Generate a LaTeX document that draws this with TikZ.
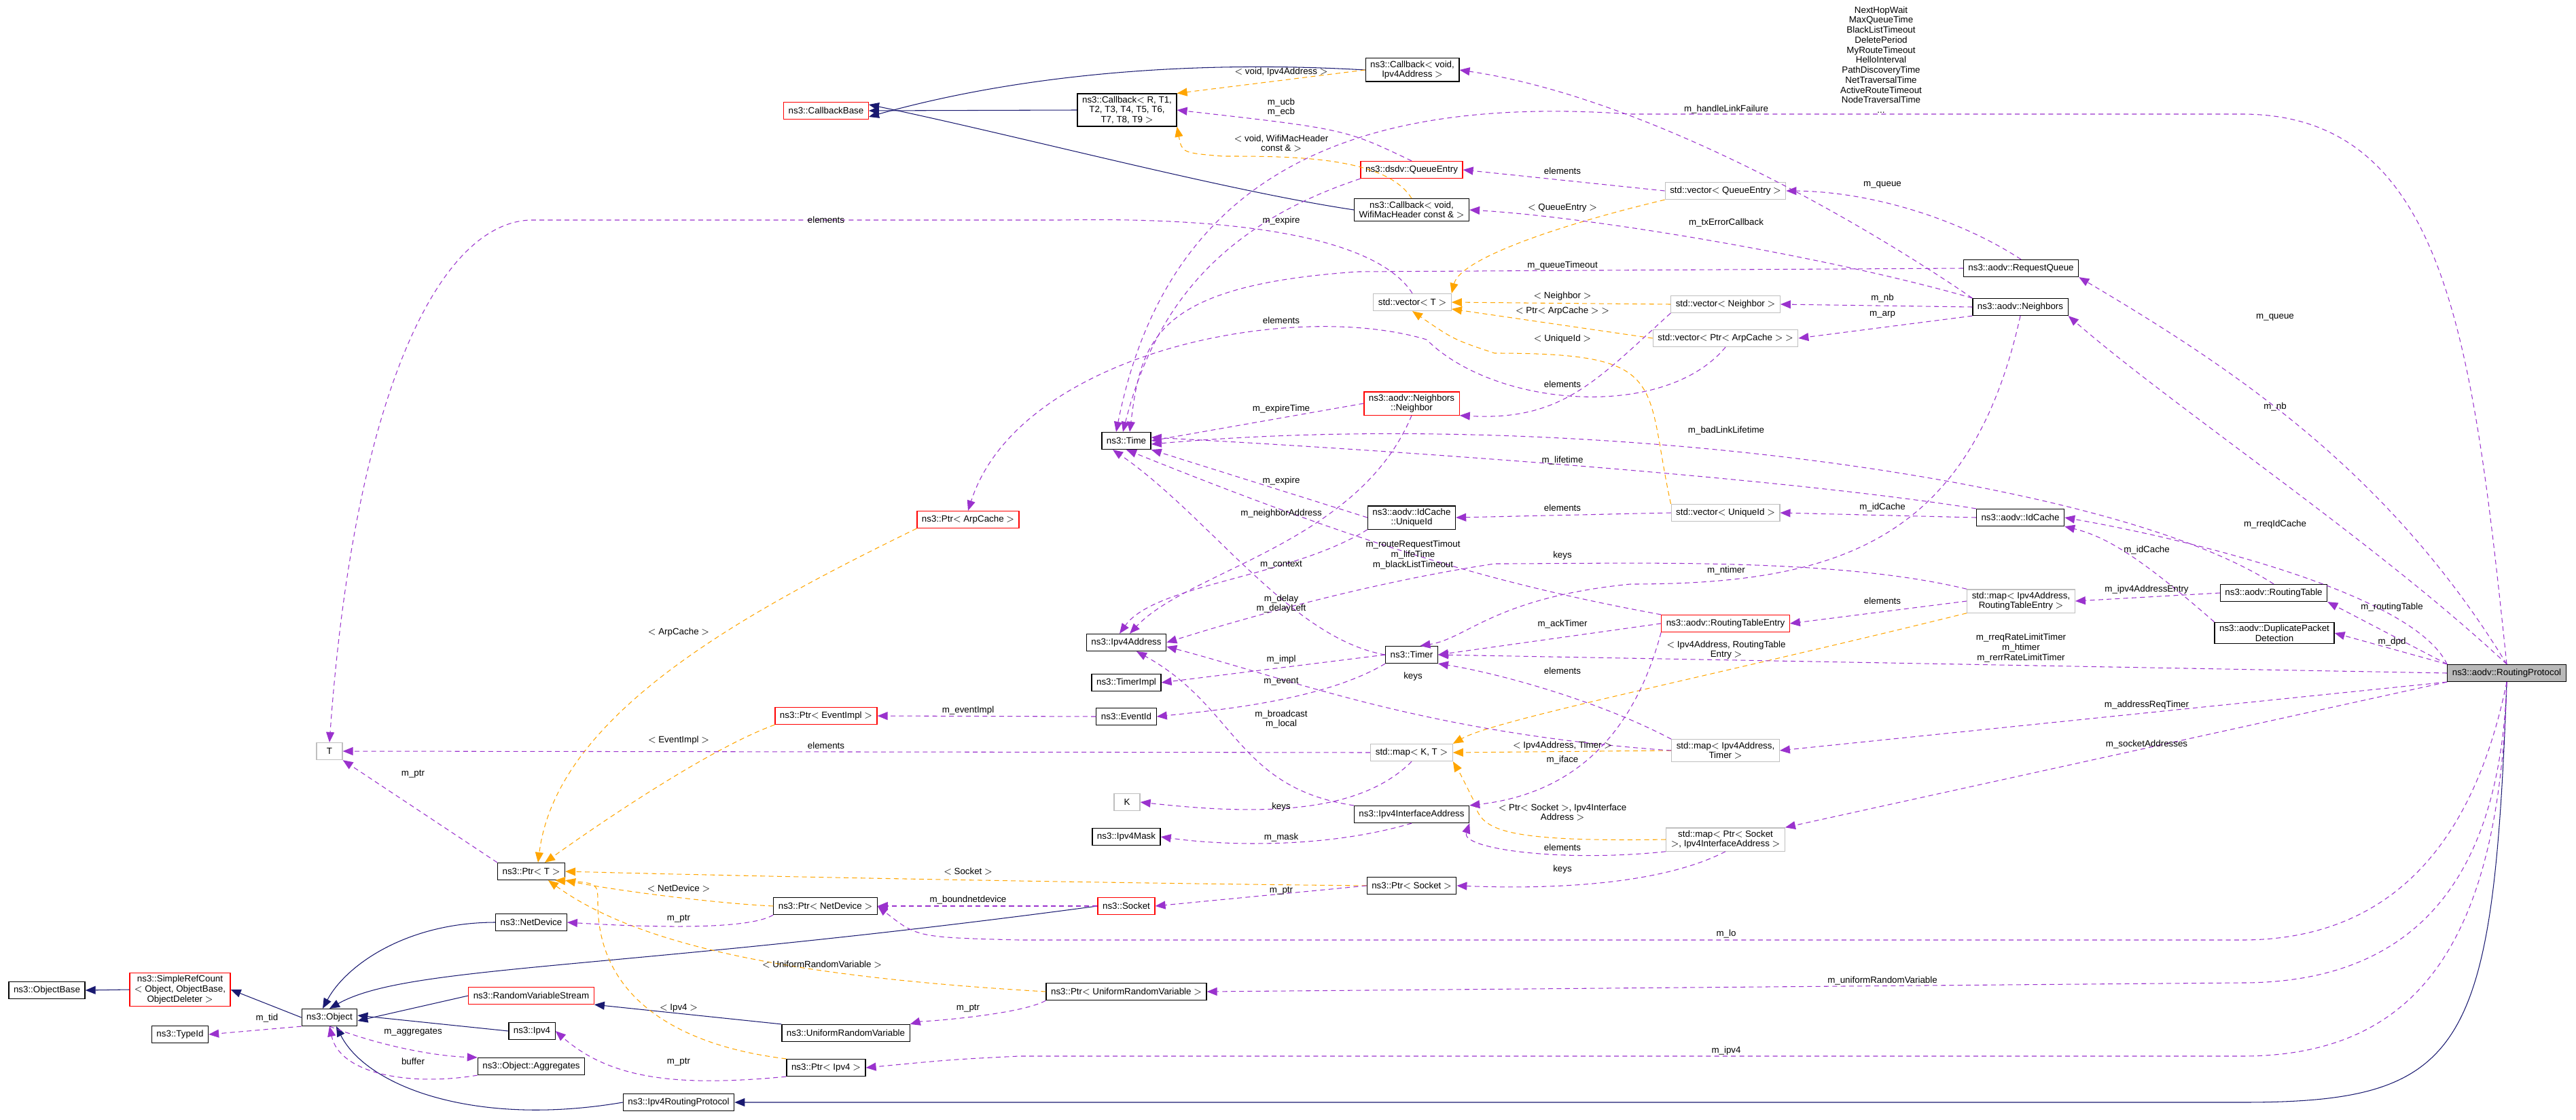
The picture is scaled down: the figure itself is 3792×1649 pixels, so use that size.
\documentclass[tikz,border=0pt]{standalone}
\usepackage{fontspec}
\setmainfont{Liberation Sans}
\usetikzlibrary{arrows.meta}
\definecolor{navy}{HTML}{191970}
\definecolor{pur}{HTML}{9A32CD}
\definecolor{org}{HTML}{FFA500}
\tikzset{
  cls/.style={draw=black,line width=0.7pt,fill=white,font=\fontsize{7.6}{8.4}\selectfont,align=center,inner xsep=4pt,inner ysep=2pt,minimum height=0.5cm},
  redc/.style={cls,draw=red},
  grayc/.style={cls,draw=gray!50},
  mainc/.style={cls,fill=gray!55},
  lbl/.style={font=\fontsize{7.6}{8.4}\selectfont,align=center,inner sep=0pt},
  inh/.style={draw=navy,line width=0.6pt,-{Triangle[length=0.3cm,width=0.24cm]}},
  use/.style={draw=pur,line width=0.6pt,dash pattern=on 4pt off 3pt,-{Triangle[length=0.3cm,width=0.24cm]}},
  tpl/.style={draw=org,line width=0.6pt,dash pattern=on 4pt off 3pt,-{Triangle[length=0.3cm,width=0.24cm]}},
}
\begin{document}
\begin{tikzpicture}[x=0.02cm,y=-0.02cm]
\useasboundingbox (0,0) rectangle (3792,1649);
% nodes
\node[redc] (cbb) at (1216,163) {ns3::CallbackBase};
\node[cls] (cbip) at (2079,103) {ns3::Callback$<$ void,\\ Ipv4Address $>$};
\node[cls] (cbr) at (1659,162) {ns3::Callback$<$ R, T1,\\ T2, T3, T4, T5, T6,\\ T7, T8, T9 $>$};
\node[redc] (qe) at (2078,250) {ns3::dsdv::QueueEntry};
\node[cls] (cbw) at (2078,309) {ns3::Callback$<$ void,\\ WifiMacHeader const \& $>$};
\node[grayc] (vqe) at (2540,281) {std::vector$<$ QueueEntry $>$};
\node[grayc] (vt) at (2079,445) {std::vector$<$ T $>$};
\node[grayc] (vnb) at (2540,448) {std::vector$<$ Neighbor $>$};
\node[grayc] (varp) at (2540,498) {std::vector$<$ Ptr$<$ ArpCache $>$ $>$};
\node[cls] (rq) at (2975,395) {ns3::aodv::RequestQueue};
\node[cls] (nbs) at (2974,452) {ns3::aodv::Neighbors};
\node[redc] (nb) at (2078,594) {ns3::aodv::Neighbors\\::Neighbor};
\node[cls] (time) at (1658,649) {ns3::Time};
\node[redc] (parp) at (1425,765) {ns3::Ptr$<$ ArpCache $>$};
\node[cls] (uid) at (2078,762) {ns3::aodv::IdCache\\::UniqueId};
\node[grayc] (vuid) at (2540,755) {std::vector$<$ UniqueId $>$};
\node[cls] (idc) at (2974,762) {ns3::aodv::IdCache};
\node[cls] (rt) at (3347,873) {ns3::aodv::RoutingTable};
\node[cls] (dpd) at (3348,932) {ns3::aodv::DuplicatePacket\\ Detection};
\node[grayc] (mrte) at (2975,885) {std::map$<$ Ipv4Address,\\ RoutingTableEntry $>$};
\node[mainc] (rp) at (3690,991) {ns3::aodv::RoutingProtocol};
\node[cls] (ip) at (1658,946) {ns3::Ipv4Address};
\node[cls] (timpl) at (1658,1005) {ns3::TimerImpl};
\node[cls] (eid) at (1658,1055) {ns3::EventId};
\node[cls] (timer) at (2078,964) {ns3::Timer};
\node[redc] (rte) at (2540,918) {ns3::aodv::RoutingTableEntry};
\node[grayc] (mkt) at (2078,1108) {std::map$<$ K, T $>$};
\node[grayc] (mit) at (2540,1105) {std::map$<$ Ipv4Address,\\ Timer $>$};
\node[grayc,minimum width=0.76cm] (K) at (1659,1181) {K};
\node[cls] (iia) at (2078,1199) {ns3::Ipv4InterfaceAddress};
\node[cls] (mask) at (1658,1232) {ns3::Ipv4Mask};
\node[grayc] (msock) at (2540,1236) {std::map$<$ Ptr$<$ Socket\\ $>$, Ipv4InterfaceAddress $>$};
\node[cls] (psock) at (2078,1304) {ns3::Ptr$<$ Socket $>$};
\node[redc] (sock) at (1658,1334) {ns3::Socket};
\node[cls] (purv) at (1658,1460) {ns3::Ptr$<$ UniformRandomVariable $>$};
\node[grayc,minimum width=0.76cm] (T) at (485,1106) {T};
\node[cls] (pt) at (782,1283) {ns3::Ptr$<$ T $>$};
\node[redc] (pev) at (1216,1054) {ns3::Ptr$<$ EventImpl $>$};
\node[cls] (pnd) at (1215,1334) {ns3::Ptr$<$ NetDevice $>$};
\node[cls] (nd) at (782,1358) {ns3::NetDevice};
\node[cls] (ob) at (69,1458) {ns3::ObjectBase};
\node[redc] (src) at (265,1457) {ns3::SimpleRefCount\\ $<$ Object, ObjectBase,\\ ObjectDeleter $>$};
\node[cls] (obj) at (485,1498) {ns3::Object};
\node[cls] (tid) at (265,1523) {ns3::TypeId};
\node[redc] (rvs) at (782,1466) {ns3::RandomVariableStream};
\node[cls] (ipv4) at (783,1518) {ns3::Ipv4};
\node[cls] (agg) at (782,1570) {ns3::Object::Aggregates};
\node[cls] (i4rp) at (999,1623) {ns3::Ipv4RoutingProtocol};
\node[cls] (urv) at (1245,1521) {ns3::UniformRandomVariable};
\node[cls] (pip) at (1216,1572) {ns3::Ptr$<$ Ipv4 $>$};

% inheritance
\draw[inh] (cbip.west) .. controls (1750,88) and (1500,110) .. ([yshift=-0.18cm]cbb.east);
\draw[inh] (cbr.west) -- (cbb.east);
\draw[inh] (cbw.west) .. controls (1800,280) and (1500,200) .. ([yshift=0.18cm]cbb.east);
\draw[inh] (src.west) -- (ob.east);
\draw[inh] (obj.west) -- (src.east);
\draw[inh] (nd.west) .. controls (600,1358) and (510,1420) .. ([xshift=-0.2cm]obj.north);
\draw[inh] (sock.west) .. controls (900,1430) and (600,1420) .. (obj.north);
\draw[inh] (rvs.west) -- ([yshift=-0.1cm]obj.east);
\draw[inh] (ipv4.west) -- ([yshift=0.06cm]obj.east);
\draw[inh] (i4rp.west) .. controls (700,1660) and (540,1600) .. ([xshift=0.2cm]obj.south);
\draw[inh] (urv.north west) -- (rvs.south east);
\draw[inh] (rp.south) .. controls (3670,1550) and (3630,1623) .. (3300,1623) -- (i4rp.east);

% templates
\draw[tpl] (cbip.west) -- (cbr.north east);
\draw[tpl] (cbw.north) .. controls (2040,230) and (1900,230) .. (1800,230) .. controls (1740,225) .. (cbr.south east);
\draw[tpl] (vqe.south west) .. controls (2300,330) and (2150,380) .. (vt.north east);
\draw[tpl] (vnb.west) -- (vt.east);
\draw[tpl] (varp.west) -- ([yshift=-0.2cm]vt.east);
\draw[tpl] (vuid.north west) .. controls (2420,560) and (2460,520) .. (2200,520) .. controls (2140,500) .. (vt.south);
\draw[tpl] (parp.south west) .. controls (1100,900) and (820,1050) .. ([xshift=0.2cm]pt.north);
\draw[tpl] (pev.south west) .. controls (1050,1100) and (900,1200) .. ([xshift=0.4cm]pt.north);
\draw[tpl] (pnd.west) .. controls (1050,1330) and (900,1310) .. (pt.south east);
\draw[tpl] (psock.west) .. controls (1600,1300) and (1100,1290) .. (pt.east);
\draw[tpl] (purv.west) .. controls (1200,1440) and (950,1400) .. ([xshift=0.5cm]pt.south);
\draw[tpl] (pip.north west) .. controls (1000,1540) and (880,1470) .. (880,1330) .. controls (880,1300) .. ([xshift=0.7cm]pt.south);
\draw[tpl] (mrte.south west) .. controls (2500,1000) and (2200,1060) .. (mkt.north east);
\draw[tpl] (mit.west) -- (mkt.east);
\draw[tpl] (msock.west) .. controls (2200,1240) and (2180,1220) .. (2170,1180) .. controls (2150,1140) .. (mkt.south east);

% usage
\draw[use] (qe.north) .. controls (1980,190) .. (cbr.east);
\draw[use] (vqe.west) -- (qe.east);
\draw[use] (rq.north) .. controls (2880,320) and (2750,282) .. (vqe.east);
\draw[use] (rq.west) -- (2000,400) .. controls (1700,420) and (1680,500) .. ([xshift=0.1cm]time.north);
\draw[use] (nbs.north west) .. controls (2700,300) and (2400,140) .. (cbip.east);
\draw[use] (nbs.north west) .. controls (2700,380) and (2350,320) .. (cbw.east);
\draw[use] (nbs.west) -- (vnb.east);
\draw[use] (nbs.south west) -- (varp.east);
\draw[use] (nbs.south) .. controls (2900,800) and (2700,860) .. (2400,860) .. controls (2200,880) and (2160,940) .. ([xshift=0.25cm]timer.north);
\draw[use] (vt.north) .. controls (2040,370) and (1900,318) .. (1560,324) -- (780,324) .. controls (640,330) and (520,600) .. (T.north);
\draw[use] (qe.south west) .. controls (1800,330) and (1700,450) .. ([xshift=-0.1cm]time.north);
\draw[use] (vnb.south west) .. controls (2350,560) and (2300,620) .. (nb.south east);
\draw[use] (varp.south) .. controls (2450,620) and (2200,600) .. (2100,500) .. controls (1900,440) and (1500,520) .. (parp.north);
\draw[use] (nb.west) -- (time.east);
\draw[use] (nb.south) .. controls (2000,800) and (1750,840) .. ([xshift=0.1cm]ip.north);
\draw[use] (uid.west) -- (time.south east);
\draw[use] (uid.south west) .. controls (1900,850) and (1700,860) .. ([xshift=-0.2cm]ip.north);
\draw[use] (vuid.west) -- (uid.east);
\draw[use] (idc.west) -- (vuid.east);
\draw[use] (idc.north west) .. controls (2600,700) and (2000,660) .. ([yshift=0.1cm]time.east);
\draw[use] (rt.north) .. controls (3100,700) and (2300,600) .. ([yshift=-0.1cm]time.east);
\draw[use] (dpd.north west) .. controls (3150,820) and (3100,790) .. (idc.south east);
\draw[use] (rt.west) -- (mrte.east);
\draw[use] (mrte.west) -- (rte.east);
\draw[use] (mrte.north west) .. controls (2700,820) and (2400,830) .. (2200,830) .. controls (2000,860) and (1800,920) .. (ip.east);
\draw[use] (rte.north west) .. controls (2200,860) and (2000,800) .. (time.south);
\draw[use] (rte.west) -- (timer.east);
\draw[use] (rte.south west) .. controls (2400,1100) and (2300,1170) .. (iia.north east);
\draw[use] (timer.west) .. controls (1900,940) and (1780,760) .. ([xshift=-0.4cm]time.south);
\draw[use] (timer.west) -- (timpl.east);
\draw[use] (timer.south west) .. controls (1950,1030) and (1800,1045) .. (eid.east);
\draw[use] (eid.west) -- (pev.east);
\draw[use] (mit.north west) .. controls (2350,1030) and (2200,990) .. (timer.south east);
\draw[use] (mit.west) .. controls (2100,1080) and (1900,1000) .. ([yshift=-0.12cm]ip.east);
\draw[use] (mkt.west) -- (T.east);
\draw[use] (mkt.south) .. controls (2000,1200) and (1850,1200) .. (K.east);
\draw[use] (iia.north west) .. controls (1820,1160) and (1820,1040) .. ([xshift=0.3cm]ip.south);
\draw[use] (iia.south) .. controls (1950,1250) and (1800,1245) .. (mask.east);
\draw[use] (msock.south west) .. controls (2300,1270) and (2150,1250) .. (iia.south east);
\draw[use] (msock.south) .. controls (2450,1300) and (2300,1310) .. (psock.east);
\draw[use] (psock.west) -- (sock.east);
\draw[use] (sock.west) -- (pnd.east);
\draw[use] (pnd.south west) .. controls (1100,1370) and (950,1365) .. (nd.east);
\draw[use] (pt.north west) -- (T.south east);
\draw[use] (obj.south west) -- (tid.east);
\draw[use] (obj.south) .. controls (560,1540) and (640,1555) .. (agg.north west);
\draw[use] (agg.south west) .. controls (600,1600) and (500,1580) .. (obj.south);
\draw[use] (purv.south west) .. controls (1500,1495) and (1350,1505) .. (urv.north east);
\draw[use] (pip.south west) .. controls (1000,1600) and (900,1590) .. (ipv4.east);
% routing protocol
\draw[use] (rp.north) .. controls (3640,500) and (3600,168) .. (3300,168) -- (2400,168) .. controls (2000,140) and (1720,250) .. ([xshift=-0.3cm]time.north);
\draw[use] (rp.north) .. controls (3520,700) and (3300,550) .. (rq.south east);
\draw[use] (rp.north) .. controls (3500,800) and (3200,600) .. (nbs.south east);
\draw[use] (rp.north west) .. controls (3550,870) and (3200,790) .. (idc.east);
\draw[use] (rp.north west) -- (rt.south east);
\draw[use] (rp.north west) -- (dpd.east);
\draw[use] (rp.west) -- (timer.east);
\draw[use] (rp.south west) -- (mit.east);
\draw[use] (rp.south west) -- (msock.north east);
\draw[use] (rp.south) .. controls (3650,1200) and (3550,1384) .. (3300,1384) -- (1500,1384) .. controls (1350,1380) .. (pnd.east);
\draw[use] (rp.south) .. controls (3680,1300) and (3550,1447) .. (3300,1447) -- (purv.east);
\draw[use] (rp.south) .. controls (3680,1400) and (3550,1555) .. (3300,1555) -- (1500,1555) .. controls (1400,1560) .. (pip.east);

% labels
\node[lbl] (a1) at (2769,88) {NextHopWait\\MaxQueueTime\\BlackListTimeout\\DeletePeriod\\MyRouteTimeout\\HelloInterval\\PathDiscoveryTime\\NetTraversalTime\\ActiveRouteTimeout\\NodeTraversalTime\\...};
\node[lbl] (a2) at (1886,106) {$<$ void, Ipv4Address $>$};
\node[lbl] (a3) at (1886,158) {m\_ucb\\m\_ecb};
\node[lbl] (a4) at (1886,211) {$<$ void, WifiMacHeader\\const \& $>$};
\node[lbl] (a5) at (2300,252) {elements};
\node[lbl] (a6) at (2300,306) {$<$ QueueEntry $>$};
\node[lbl] (a7) at (2541,161) {m\_handleLinkFailure};
\node[lbl] (a8) at (2541,328) {m\_txErrorCallback};
\node[lbl] (a9) at (1886,325) {m\_expire};
\node[lbl] (a10) at (1216,324) {elements};
\node[lbl] (a11) at (2300,391) {m\_queueTimeout};
\node[lbl] (a12) at (2300,436) {$<$ Neighbor $>$};
\node[lbl] (a13) at (2300,458) {$<$ Ptr$<$ ArpCache $>$ $>$};
\node[lbl] (a14) at (1886,472) {elements};
\node[lbl] (a15) at (2300,499) {$<$ UniqueId $>$};
\node[lbl] (a16) at (2300,566) {elements};
\node[lbl] (a17) at (1886,602) {m\_expireTime};
\node[lbl] (a18) at (2541,634) {m\_badLinkLifetime};
\node[lbl] (a19) at (2300,678) {m\_lifetime};
\node[lbl] (a20) at (1886,708) {m\_expire};
\node[lbl] (a21) at (1886,756) {m\_neighborAddress};
\node[lbl] (a22) at (2300,748) {elements};
\node[lbl] (a23) at (2771,272) {m\_queue};
\node[lbl] (a24) at (3349,467) {m\_queue};
\node[lbl] (a25) at (2771,439) {m\_nb};
\node[lbl] (a26) at (2771,463) {m\_arp};
\node[lbl] (a27) at (3349,599) {m\_nb};
\node[lbl] (a28) at (2771,747) {m\_idCache};
\node[lbl] (a29) at (3349,772) {m\_rreqIdCache};
\node[lbl] (a30) at (3160,810) {m\_idCache};
\node[lbl] (a31) at (1886,832) {m\_context};
\node[lbl] (a32) at (2080,817) {m\_routeRequestTimout\\m\_lifeTime\\m\_blackListTimeout};
\node[lbl] (a33) at (1886,889) {m\_delay\\m\_delayLeft};
\node[lbl] (a34) at (1886,971) {m\_impl};
\node[lbl] (a35) at (1886,1004) {m\_event};
\node[lbl] (a36) at (1425,1046) {m\_eventImpl};
\node[lbl] (a37) at (2080,996) {keys};
\node[lbl] (a38) at (2300,919) {m\_ackTimer};
\node[lbl] (a39) at (2541,840) {m\_ntimer};
\node[lbl] (a40) at (2300,818) {keys};
\node[lbl] (a41) at (2541,957) {$<$ Ipv4Address, RoutingTable\\Entry $>$};
\node[lbl] (a42) at (2300,988) {elements};
\node[lbl] (a43) at (1886,1059) {m\_broadcast\\m\_local};
\node[lbl] (a44) at (2300,1098) {$<$ Ipv4Address, Timer $>$};
\node[lbl] (a45) at (2300,1119) {m\_iface};
\node[lbl] (a46) at (1886,1188) {keys};
\node[lbl] (a47) at (2300,1196) {$<$ Ptr$<$ Socket $>$, Ipv4Interface\\Address $>$};
\node[lbl] (a48) at (1886,1233) {m\_mask};
\node[lbl] (a49) at (2300,1248) {elements};
\node[lbl] (a50) at (2300,1280) {keys};
\node[lbl] (a51) at (1425,1283) {$<$ Socket $>$};
\node[lbl] (a52) at (1886,1312) {m\_ptr};
\node[lbl] (a53) at (1425,1325) {m\_boundnetdevice};
\node[lbl] (a54) at (2541,1375) {m\_lo};
\node[lbl] (a55) at (1425,1485) {m\_ptr};
\node[lbl] (a56) at (2541,1547) {m\_ipv4};
\node[lbl] (a57) at (3160,868) {m\_ipv4AddressEntry};
\node[lbl] (a58) at (2771,885) {elements};
\node[lbl] (a59) at (3521,894) {m\_routingTable};
\node[lbl] (a60) at (3521,945) {m\_dpd};
\node[lbl] (a61) at (2975,954) {m\_rreqRateLimitTimer\\m\_htimer\\m\_rerrRateLimitTimer};
\node[lbl] (a62) at (3160,1038) {m\_addressReqTimer};
\node[lbl] (a63) at (3160,1096) {m\_socketAddresses};
\node[lbl] (a64) at (2771,1444) {m\_uniformRandomVariable};
\node[lbl] (a65) at (999,931) {$<$ ArpCache $>$};
\node[lbl] (a66) at (999,1090) {$<$ EventImpl $>$};
\node[lbl] (a67) at (1216,1098) {elements};
\node[lbl] (a68) at (608,1140) {m\_ptr};
\node[lbl] (a69) at (999,1308) {$<$ NetDevice $>$};
\node[lbl] (a70) at (999,1353) {m\_ptr};
\node[lbl] (a71) at (1210,1420) {$<$ UniformRandomVariable $>$};
\node[lbl] (a72) at (999,1484) {$<$ Ipv4 $>$};
\node[lbl] (a73) at (393,1499) {m\_tid};
\node[lbl] (a74) at (608,1520) {m\_aggregates};
\node[lbl] (a75) at (608,1563) {buffer};
\node[lbl] (a76) at (999,1564) {m\_ptr};
\end{tikzpicture}
\end{document}
